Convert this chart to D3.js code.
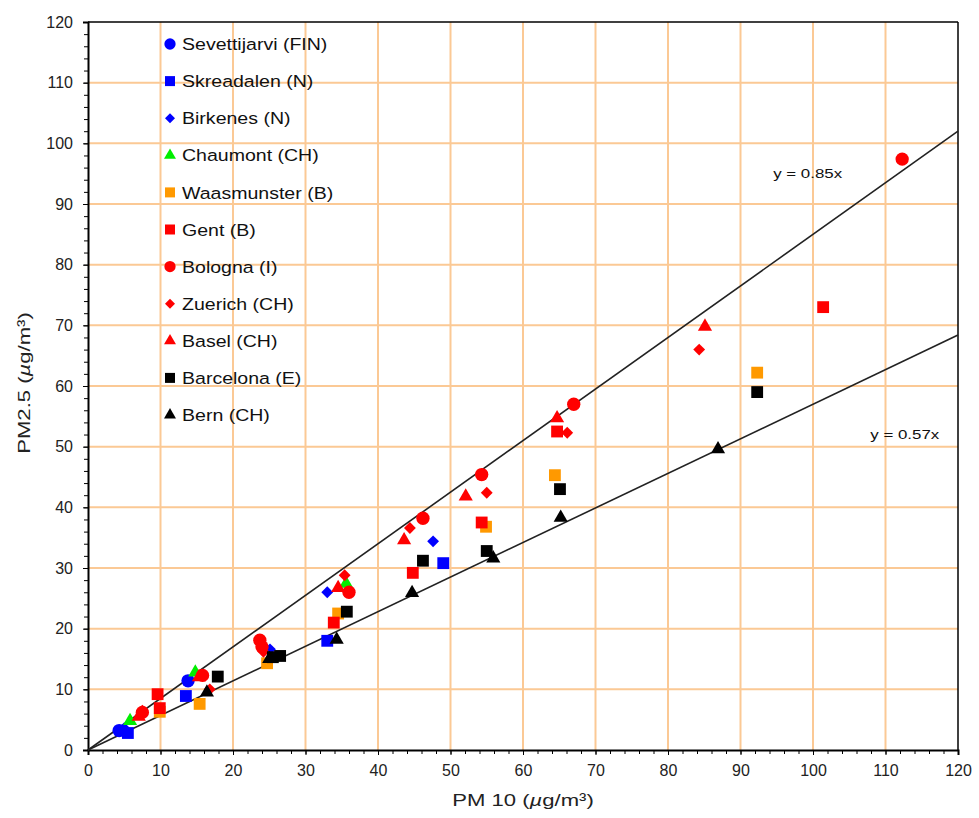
<!DOCTYPE html>
<html lang="en">
<head>
  <meta charset="UTF-8" />
  <title>PM2.5 vs PM10</title>
  <style>
    body { margin: 0; background: #fff; font-family: "Liberation Sans", Arial, sans-serif; }
    .grid line { stroke: #fbc995; stroke-width: 2px; }
    .axis path, .axis line { stroke: #000; }
    .axis text { font-size: 16px; fill: #222; font-family: "Liberation Sans", Arial, sans-serif; }
    .legend text { font-size: 17px; fill: #111; }
    .fit-label { font-size: 13px; fill: #111; }
    .title { font-size: 17px; fill: #222; }
  </style>
  <script src="https://d3js.org/d3.v7.min.js"></script>
</head>
<body>
  <div id="chart"></div>
  <script>
    const width = 979;
    const height = 818;

    // station names, in legend order
    const stations = ["Sevettijarvi (FIN)", "Skreadalen (N)", "Birkenes (N)", "Chaumont (CH)",
      "Waasmunster (B)", "Gent (B)", "Bologna (I)", "Zuerich (CH)", "Basel (CH)",
      "Barcelona (E)", "Bern (CH)"];
    const colors = ["#0000ff", "#0000ff", "#0000ff", "#00ee00", "#ff9900", "#ff0000",
      "#ff0000", "#ff0000", "#ff0000", "#000000", "#000000"];
    const shapes = ["circle", "square", "diamond", "triangle", "square", "square",
      "circle", "diamond", "triangle", "square", "triangle"];

    // [PM10, PM2.5] pairs per station
    const sevettijarvi = [[4.3, 3.2], [13.8, 11.4]];
    const skreadalen = [[5.5, 2.8], [13.5, 8.9], [33, 18], [49, 30.8]];
    const birkenes = [[5, 3.6], [25.1, 16.6], [33, 26], [47.6, 34.4]];
    const chaumont = [[5.8, 4.8], [14.8, 12.8], [35.6, 27.4]];
    const waasmunster = [[9.9, 6.3], [15.4, 7.6], [24.7, 14.3], [34.5, 22.5], [54.9, 36.8], [64.4, 45.3], [92.3, 62.2]];
    const gent = [[9.6, 9.2], [9.9, 6.9], [33.9, 21], [44.8, 29.2], [54.3, 37.5], [64.7, 52.5], [101.4, 73]];
    const bologna = [[7.5, 6.2], [15.8, 12.3], [23.7, 18.1], [24, 17], [36, 26], [46.2, 38.2], [54.3, 45.4], [67, 57], [112.3, 97.4]];
    const zuerich = [[7.5, 6.5], [16.8, 10], [24.2, 16.2], [35.4, 28.8], [44.4, 36.6], [55, 42.4], [66.1, 52.3], [84.3, 66]];
    const basel = [[7, 5.5], [15.3, 12], [34.5, 26.7], [43.6, 34.6], [52.1, 41.8], [64.7, 54.7], [85.1, 69.8]];
    const barcelona = [[17.9, 12.1], [25.5, 15.3], [26.5, 15.5], [35.7, 22.8], [46.2, 31.2], [55, 32.8], [65.1, 43], [92.3, 59]];
    const bern = [[16.4, 9.5], [25, 15], [34.3, 18.2], [44.7, 25.9], [55.9, 31.6], [65.2, 38.3], [86.9, 49.6]];
    const series = [sevettijarvi, skreadalen, birkenes, chaumont, waasmunster, gent,
      bologna, zuerich, basel, barcelona, bern];

    // regression slopes and their labels
    const slopes = [0.85, 0.57];
    const slopeLabels = ["y = 0.85x", "y = 0.57x"];
    const slopeLabelAt = [[94.5, 94.3], [107.9, 51.2]];

    const xTicks = d3.range(0, 121, 10);
    const yTicks = d3.range(0, 121, 10);

    const svg = d3.select("#chart").append("svg")
      .attr("width", width)
      .attr("height", height);

    const x = d3.scaleLinear().domain([0, 120]).range([88, 958]);
    const y = d3.scaleLinear().domain([0, 120]).range([750, 22]);

    // grid
    const grid = svg.append("g").attr("class", "grid");
    grid.selectAll(".gx").data(xTicks.slice(1, -1)).enter().append("line")
      .attr("x1", d => x(d)).attr("x2", d => x(d))
      .attr("y1", y(0)).attr("y2", y(120));
    grid.selectAll(".gy").data(yTicks.slice(1, -1)).enter().append("line")
      .attr("x1", x(0)).attr("x2", x(120))
      .attr("y1", d => y(d)).attr("y2", d => y(d));

    // frame top / right
    svg.append("line").attr("x1", x(0)).attr("x2", x(120)).attr("y1", y(120)).attr("y2", y(120))
      .attr("stroke", "#000").attr("stroke-width", 1.5);
    svg.append("line").attr("x1", x(120)).attr("x2", x(120)).attr("y1", y(0)).attr("y2", y(120))
      .attr("stroke", "#000").attr("stroke-width", 1.5);

    // axes with minor ticks
    const xMinor = svg.append("g").attr("class", "axis")
      .attr("transform", `translate(0,${y(0)})`)
      .call(d3.axisBottom(x).tickValues(d3.range(0, 121, 2)).tickSize(4).tickFormat(""));
    xMinor.select(".domain").remove();
    const xAxis = svg.append("g").attr("class", "axis")
      .attr("transform", `translate(0,${y(0)})`)
      .call(d3.axisBottom(x).tickValues(xTicks).tickSize(5).tickPadding(10));
    xAxis.select(".domain").attr("stroke-width", 2);

    const yMinor = svg.append("g").attr("class", "axis")
      .attr("transform", `translate(${x(0)},0)`)
      .call(d3.axisLeft(y).tickValues(d3.range(0, 121, 2)).tickSize(4).tickFormat(""));
    yMinor.select(".domain").remove();
    const yAxis = svg.append("g").attr("class", "axis")
      .attr("transform", `translate(${x(0)},0)`)
      .call(d3.axisLeft(y).tickValues(yTicks).tickSize(5).tickPadding(10));
    yAxis.select(".domain").attr("stroke-width", 2);

    // fit lines
    svg.selectAll(".fit").data(slopes).enter().append("line")
      .attr("x1", x(0)).attr("y1", y(0))
      .attr("x2", x(120)).attr("y2", d => y(d * 120))
      .attr("stroke", "#222").attr("stroke-width", 1.6);
    svg.selectAll(".fit-label").data(slopeLabels).enter().append("text")
      .attr("class", "fit-label")
      .attr("transform", (d, i) => `translate(${x(slopeLabelAt[i][0])},${y(slopeLabelAt[i][1])}) scale(1.3,1)`)
      .text(d => d);

    function symbolPath(shape, size) {
      if (shape === "circle") return d3.symbol(d3.symbolCircle, size)();
      if (shape === "square") return d3.symbol(d3.symbolSquare, size)();
      if (shape === "triangle") return d3.symbol(d3.symbolTriangle, size * 0.62)();
      return d3.symbol(d3.symbolSquare, size * 0.5)();
    }
    function symbolRotate(shape) { return shape === "diamond" ? " rotate(45)" : ""; }

    // points
    series.forEach((pts, i) => {
      svg.append("g").selectAll("path").data(pts).enter().append("path")
        .attr("d", symbolPath(shapes[i], 140))
        .attr("transform", d => `translate(${x(d[0])},${y(d[1])})` + symbolRotate(shapes[i]))
        .attr("fill", colors[i]);
    });

    // legend
    const legend = svg.append("g").attr("class", "legend");
    const rows = legend.selectAll("g").data(stations).enter().append("g")
      .attr("transform", (d, i) => `translate(170,${44 + i * 37.1})`);
    rows.append("path")
      .attr("d", (d, i) => symbolPath(shapes[i], 100))
      .attr("transform", (d, i) => symbolRotate(shapes[i]).trim())
      .attr("fill", (d, i) => colors[i]);
    rows.append("text")
      .attr("transform", "translate(12,0) scale(1.15,1)")
      .attr("dy", "0.36em").text(d => d);

    // axis titles
    const xt = svg.append("text").attr("class", "title")
      .attr("transform", `translate(${x(60)},806) scale(1.3,1)`)
      .attr("text-anchor", "middle");
    xt.append("tspan").text("PM 10 (");
    xt.append("tspan").attr("font-style", "italic").text("µ");
    xt.append("tspan").text("g/m³)");

    const yt = svg.append("text").attr("class", "title")
      .attr("transform", `translate(30,${y(60.5)}) rotate(-90) scale(1.3,1)`)
      .attr("text-anchor", "middle");
    yt.append("tspan").text("PM2.5 (");
    yt.append("tspan").attr("font-style", "italic").text("µ");
    yt.append("tspan").text("g/m³)");
  </script>
</body>
</html>
